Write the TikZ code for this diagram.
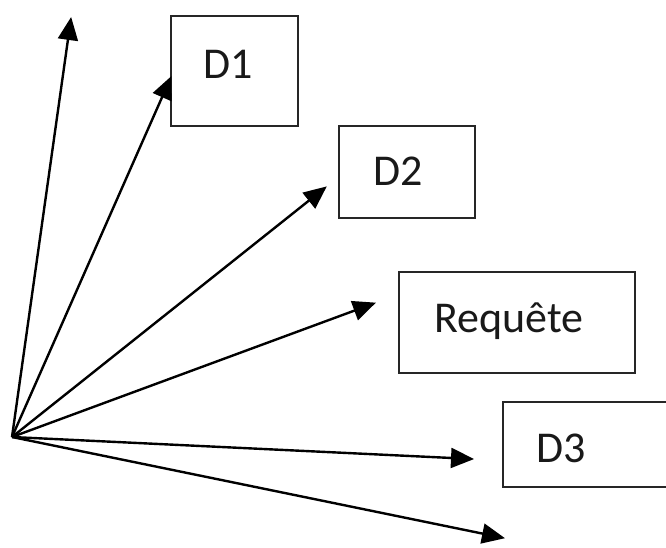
\documentclass[tikz,border=0pt]{standalone}
\usepackage{fontspec}
\setmainfont{Carlito}
\usetikzlibrary{arrows.meta}
\begin{document}
\begin{tikzpicture}[x=1pt,y=-1pt,
  box/.style={draw=black!85, line width=2pt, rectangle, inner sep=0pt},
  lbl/.style={anchor=base west, inner sep=0pt, text=black!90,
    font=\fontsize{44}{50}\selectfont},
  ray/.style={line width=2.4pt, -{Triangle[length=23pt,width=20pt]}, shorten >=-1pt}]
  \useasboundingbox[fill=white] (0,0) rectangle (666,547);

  % boxes
  \node[box, minimum width=127pt, minimum height=110pt] (d1) at (234.5,71) {};
  \node[box, minimum width=136pt, minimum height=92pt] (d2) at (407,172) {};
  \node[box, minimum width=236pt, minimum height=101pt] (req) at (517,322.5) {};
  \node[box, minimum width=166pt, minimum height=85pt] (d3) at (586,444.5) {};

  % labels
  \node[lbl] (t1) at (203,78) {D1};
  \node[lbl] (t2) at (373,185) {D2};
  \node[lbl] (t3) at (434,332) {Requête};
  \node[lbl] (t4) at (536,462) {D3};

  % common origin and arrow tips
  \coordinate (o) at (12,437);
  \coordinate (a1) at (71,18);
  \coordinate (a2) at (171,77);
  \coordinate (a3) at (326,187);
  \coordinate (a4) at (375,303);
  \coordinate (a5) at (473,459);
  \coordinate (a6) at (504,538);

  \foreach \t in {a1,a2,a3,a4,a5,a6}
    \draw[ray] (o) -- (\t);
\end{tikzpicture}
\end{document}
